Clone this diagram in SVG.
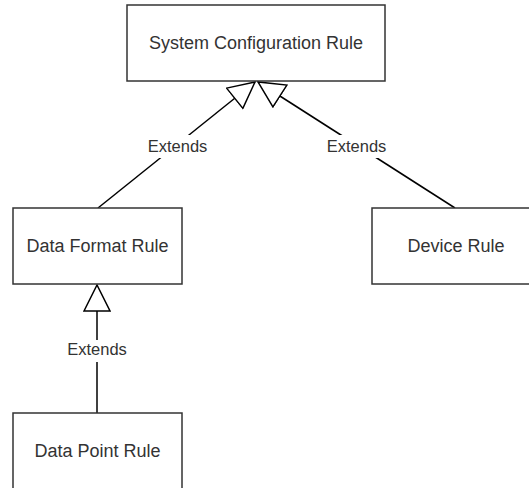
<svg xmlns="http://www.w3.org/2000/svg" width="529" height="488" viewBox="0 0 529 488">
  <style>
    .box { fill: #ffffff; stroke: #333333; stroke-width: 1.5; }
    .name { font-family: "Liberation Sans", Arial, Helvetica, sans-serif; font-size: 18px; fill: #333333; text-anchor: middle; }
    .edge { fill: none; stroke: #000000; stroke-width: 1.5; }
    .tag-bg { fill: #ffffff; stroke: none; }
    .tag { font-family: "Liberation Sans", Arial, Helvetica, sans-serif; font-size: 16.5px; fill: #333333; text-anchor: middle; }
  </style>
  <defs>
    <!-- hollow generalization arrowhead -->
    <marker id="extends-head" viewBox="0 0 28 28" markerWidth="28" markerHeight="28" refX="27" refY="14" orient="auto" markerUnits="userSpaceOnUse">
      <path d="M1,1 L27,14 L1,27 Z" fill="#ffffff" stroke="#000000" stroke-width="1.5" stroke-linejoin="miter"/>
    </marker>
  </defs>
  <rect width="529" height="488" fill="#ffffff"/>

  <g id="connectors">
    <g id="edge-dataformat-system">
      <line class="edge" x1="98" y1="208" x2="255" y2="82" marker-end="url(#extends-head)"/>
      <rect class="tag-bg" x="146" y="135" width="63" height="23"/>
      <text class="tag" x="177.5" y="152">Extends</text>
    </g>
    <g id="edge-device-system">
      <line class="edge" x1="455" y1="208" x2="258" y2="82" marker-end="url(#extends-head)"/>
      <rect class="tag-bg" x="325" y="135" width="63" height="23"/>
      <text class="tag" x="356.5" y="152">Extends</text>
    </g>
    <g id="edge-datapoint-dataformat">
      <line class="edge" x1="97" y1="413" x2="97" y2="285" marker-end="url(#extends-head)"/>
      <rect class="tag-bg" x="65" y="340" width="63" height="22"/>
      <text class="tag" x="97" y="355">Extends</text>
    </g>
  </g>

  <g id="system-configuration-rule">
    <rect class="box" x="127" y="5" width="258" height="76"/>
    <text class="name" x="256" y="49">System Configuration Rule</text>
  </g>
  <g id="data-format-rule">
    <rect class="box" x="13" y="208" width="169" height="76"/>
    <text class="name" x="97.5" y="252">Data Format Rule</text>
  </g>
  <g id="device-rule">
    <rect class="box" x="372" y="208" width="169" height="76"/>
    <text class="name" x="456" y="252">Device Rule</text>
  </g>
  <g id="data-point-rule">
    <rect class="box" x="13" y="413" width="169" height="76"/>
    <text class="name" x="97.5" y="457">Data Point Rule</text>
  </g>
</svg>
